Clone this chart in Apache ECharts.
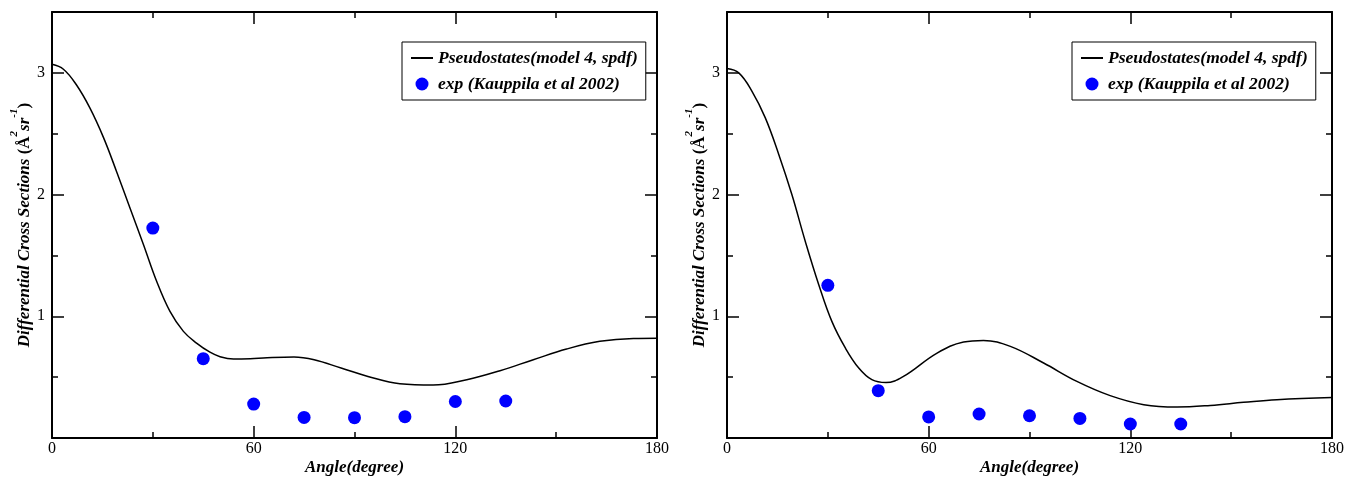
<!DOCTYPE html>
<html>
<head>
<meta charset="utf-8">
<script src="https://cdn.jsdelivr.net/npm/echarts@6.0.0/dist/echarts.min.js"></script>
<style>
  html, body { margin: 0; padding: 0; background: #fff; }
  #chart { width: 1345px; height: 477px; }
</style>
</head>
<body>
<div id="chart"></div>
<script>
// --- data ---
const LINE_NAME = "Pseudostates(model 4, spdf)";
const EXP_NAME = "exp (Kauppila et al 2002)";

const expAngles = [30, 45, 60, 75, 90, 105, 120, 135];

// left panel
const leftCurveAngles = [0, 3.4, 7.3, 11.3, 15.3, 19.2, 23.2, 27.2, 31.1, 35.1, 39.1, 43, 47, 50, 54, 59, 64, 72, 78, 86, 94, 103.5, 113.4, 123.4, 133.3, 143.2, 153.1, 163, 173, 180];
const leftCurveValues = [3.07, 3.03, 2.90, 2.71, 2.47, 2.19, 1.89, 1.59, 1.29, 1.04, 0.876, 0.78, 0.705, 0.668, 0.649, 0.652, 0.66, 0.666, 0.643, 0.575, 0.506, 0.446, 0.435, 0.479, 0.553, 0.643, 0.731, 0.794, 0.818, 0.82];
const leftExpValues = [1.725, 0.652, 0.279, 0.169, 0.167, 0.175, 0.30, 0.304];

// right panel
const rightCurveAngles = [0, 3.5, 7.4, 11.4, 15.4, 19.3, 23.3, 27.3, 31.2, 35.2, 39.2, 43.1, 47.3, 52.5, 62.5, 70.4, 76.3, 84.3, 94.2, 104.1, 114, 124, 133.9, 143.8, 153.7, 163.6, 180];
const rightCurveValues = [3.035, 3.0, 2.85, 2.63, 2.33, 2.0, 1.615, 1.26, 0.958, 0.74, 0.575, 0.479, 0.455, 0.506, 0.698, 0.789, 0.802, 0.753, 0.616, 0.465, 0.348, 0.274, 0.255, 0.268, 0.293, 0.315, 0.333];
const rightExpValues = [1.254, 0.389, 0.173, 0.197, 0.183, 0.161, 0.115, 0.115];

const xTicks = [0, 60, 120, 180];
const yTicks = [1, 2, 3];

// --- styling ---
const FONT = "'Liberation Serif', 'DejaVu Serif', serif";
const panels = [
  { left: 52, right: 688, legendLeft: 402 },
  { left: 727, right: 13, legendLeft: 1072 }
];

const chart = echarts.init(document.getElementById("chart"), null, { renderer: "canvas" });

const axisLine = { show: true, onZero: false, lineStyle: { color: "#000", width: 2 } };

function xAxisFor(gridIndex, top) {
  return {
    type: "value",
    gridIndex,
    position: top ? "top" : "bottom",
    min: 0, max: 180, interval: 60,
    axisLine,
    axisTick: { show: true, inside: true, length: 12, lineStyle: { color: "#000", width: 1.5 } },
    minorTick: { show: true, splitNumber: 2, length: 6, lineStyle: { color: "#000", width: 1.5 } },
    splitLine: { show: false },
    axisLabel: {
      show: !top,
      margin: 3,
      color: "#000",
      fontFamily: FONT,
      fontSize: 16,
      formatter: (v) => (xTicks.includes(v) ? String(v) : "")
    },
    name: top ? "" : "Angle(degree)",
    nameLocation: "middle",
    nameGap: 21,
    nameMoveOverlap: false,
    nameTextStyle: { color: "#000", fontFamily: FONT, fontSize: 17, fontWeight: "bold", fontStyle: "italic" }
  };
}

function yAxisFor(gridIndex, right) {
  return {
    type: "value",
    gridIndex,
    position: right ? "right" : "left",
    min: 0, max: 3.5, interval: 1,
    axisLine,
    axisTick: { show: true, inside: true, length: 12, lineStyle: { color: "#000", width: 1.5 } },
    minorTick: { show: true, splitNumber: 2, length: 6, lineStyle: { color: "#000", width: 1.5 } },
    splitLine: { show: false },
    axisLabel: {
      show: !right,
      margin: 7,
      color: "#000",
      fontFamily: FONT,
      fontSize: 16,
      formatter: (v) => (yTicks.includes(v) ? String(v) : "")
    },
    name: right ? "" : "{b|Differential Cross Sections }{r|(Å}{sup|2}{i|sr}{sup|-1}{r|)}",
    nameLocation: "middle",
    nameGap: 19,
    nameMoveOverlap: false,
    nameTextStyle: {
      color: "#000",
      fontFamily: FONT,
      rich: {
        b: { fontFamily: FONT, fontSize: 17, fontWeight: "bold", fontStyle: "italic", lineHeight: 24, verticalAlign: "bottom", color: "#000" },
        r: { fontFamily: FONT, fontSize: 17, fontWeight: "bold", lineHeight: 24, verticalAlign: "bottom", color: "#000" },
        i: { fontFamily: FONT, fontSize: 17, fontWeight: "bold", fontStyle: "italic", lineHeight: 24, verticalAlign: "bottom", color: "#000" },
        sup: { fontFamily: FONT, fontSize: 11, fontWeight: "bold", fontStyle: "italic", lineHeight: 24, verticalAlign: "top", color: "#000" }
      }
    }
  };
}

function pairs(xs, ys) {
  return xs.map((x, i) => [x, ys[i]]);
}

const curves = [
  pairs(leftCurveAngles, leftCurveValues),
  pairs(rightCurveAngles, rightCurveValues)
];
const exps = [
  pairs(expAngles, leftExpValues),
  pairs(expAngles, rightExpValues)
];

const series = [];
panels.forEach((p, i) => {
  series.push({
    name: LINE_NAME,
    type: "line",
    xAxisIndex: i * 2,
    yAxisIndex: i * 2,
    data: curves[i],
    smooth: 0.4,
    symbol: "none",
    showSymbol: false,
    lineStyle: { color: "#000", width: 1.5 },
    itemStyle: { color: "#000" },
    z: 2
  });
  series.push({
    name: EXP_NAME,
    type: "scatter",
    xAxisIndex: i * 2,
    yAxisIndex: i * 2,
    data: exps[i],
    symbol: "circle",
    symbolSize: 13,
    itemStyle: { color: "#0000ff", opacity: 1 },
    z: 3
  });
});

chart.setOption({
  animation: false,
  backgroundColor: "#fff",
  grid: panels.map((p) => ({
    left: p.left, right: p.right, top: 12, bottom: 39,
    containLabel: false,
    outerBoundsMode: "none"
  })),
  xAxis: [xAxisFor(0, false), xAxisFor(0, true), xAxisFor(1, false), xAxisFor(1, true)],
  yAxis: [yAxisFor(0, false), yAxisFor(0, true), yAxisFor(1, false), yAxisFor(1, true)],
  legend: panels.map((p) => ({
    orient: "vertical",
    left: p.legendLeft,
    top: 42,
    data: [
      { name: LINE_NAME, itemStyle: { opacity: 0 } },
      { name: EXP_NAME }
    ],
    itemWidth: 22,
    itemHeight: 13,
    itemGap: 8,
    padding: [7, 8, 7, 8],
    borderColor: "#000",
    borderWidth: 1,
    backgroundColor: "#fff",
    selectedMode: false,
    textStyle: { color: "#000", fontFamily: FONT, fontSize: 17.5, fontWeight: "bold", fontStyle: "italic" }
  })),
  series
});
</script>
</body>
</html>
